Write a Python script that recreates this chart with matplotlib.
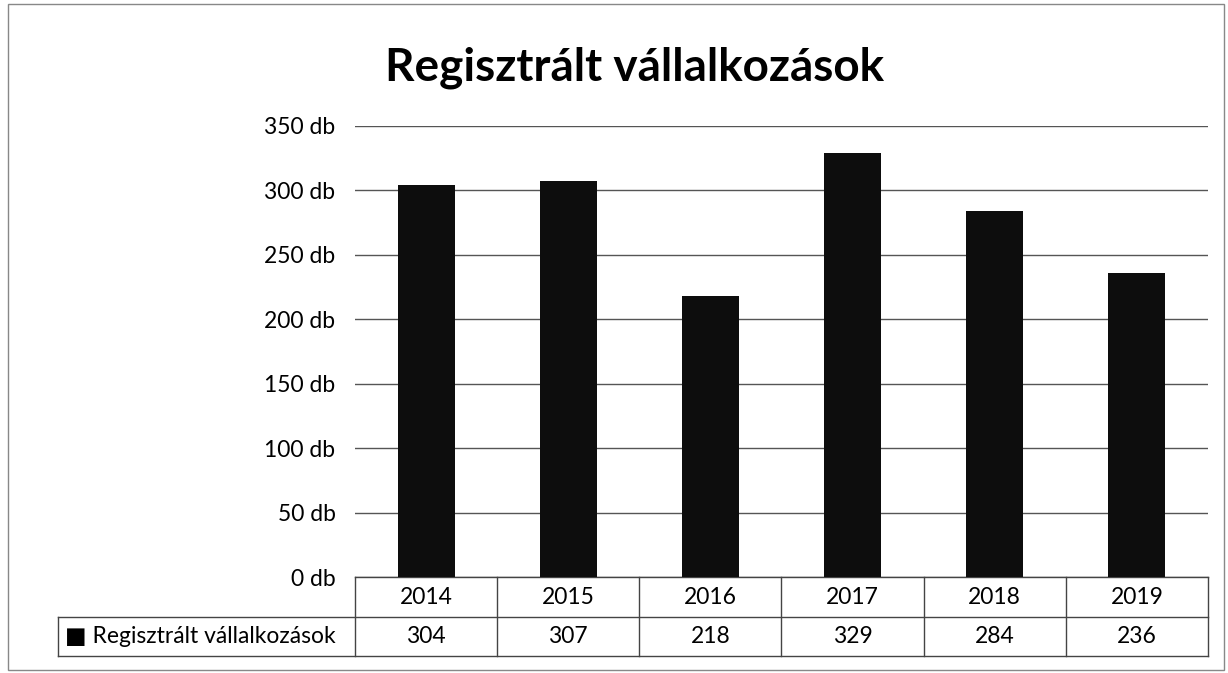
import matplotlib.pyplot as plt
from matplotlib.patches import Rectangle

# data
years = ['2014', '2015', '2016', '2017', '2018', '2019']
counts = [304, 307, 218, 329, 284, 236]
series_name = 'Regisztrált vállalkozások'
yticks = [0, 50, 100, 150, 200, 250, 300, 350]

plt.rcParams['font.family'] = ['Lato', 'DejaVu Sans']

fig = plt.figure(figsize=(12.28, 6.73), dpi=100)
ax = fig.add_axes([0.2891, 0.1426, 0.6946, 0.6702])

x = list(range(len(years)))
ax.bar(x, counts, width=0.4, color='#0d0d0d', zorder=3)
ax.set_xlim(-0.5, len(years) - 0.5)
ax.set_ylim(0, 350)
ax.set_yticks(yticks)
ax.set_yticklabels(['%d db' % v for v in yticks], fontsize=16.5)
ax.tick_params(axis='y', length=0, pad=14)
ax.set_xticks([])
ax.grid(axis='y', color='#555555', lw=1, zorder=0)
for s in ax.spines.values():
    s.set_visible(False)

# data table under the plot
lc = '#444444'
h1 = 40 / 451.0
h2 = 39 / 451.0
left = -0.348
tr = ax.transAxes
def line(xs, ys):
    ax.plot(xs, ys, color=lc, lw=1, transform=tr, clip_on=False)

n = len(years)
line([0, 1], [0, 0])
line([left, 1], [-h1, -h1])
line([left, 1], [-h1 - h2, -h1 - h2])
line([left, left], [-h1, -h1 - h2])
for i in range(n + 1):
    line([i / n, i / n], [0, -h1 - h2])
for i, (yr, c) in enumerate(zip(years, counts)):
    xc = (i + 0.5) / n
    ax.text(xc, -h1 / 2, yr, transform=tr, ha='center', va='center', fontsize=16.5)
    ax.text(xc, -h1 - h2 / 2, str(c), transform=tr, ha='center', va='center', fontsize=16.5)
ax.text(left + 0.008, -h1 - h2 / 2, '■ ' + series_name, transform=tr,
        ha='left', va='center', fontsize=16.5)

fig.text(0.517, 0.899, series_name, ha='center', va='center',
         fontsize=33, fontweight='bold')

# outer frame
fig.patches.append(Rectangle((0.0065, 0.004), 0.99, 0.99, transform=fig.transFigure,
                             fill=False, edgecolor='#888888', lw=1))

fig.savefig('out.png', dpi=100)
